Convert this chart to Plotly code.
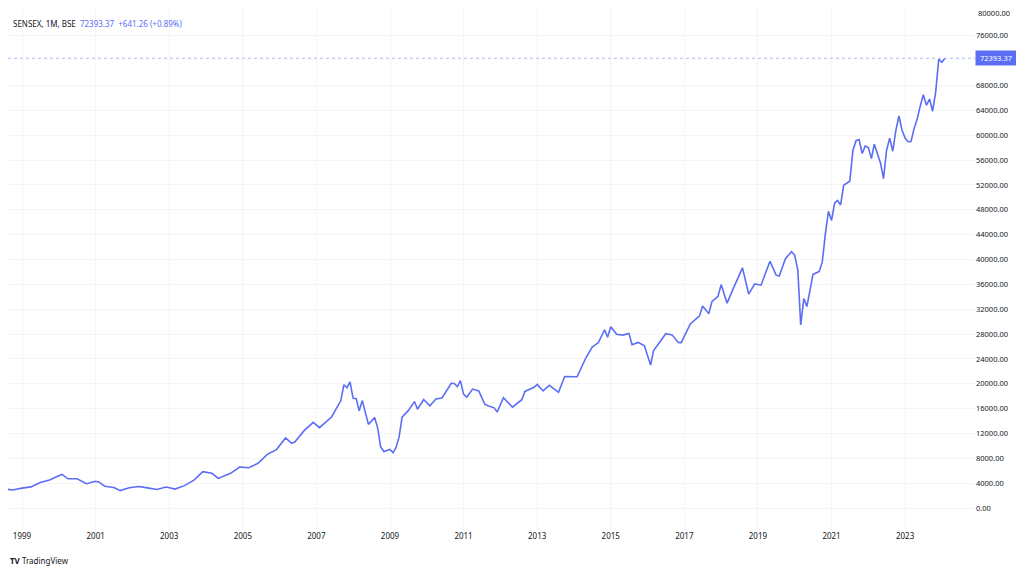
import plotly.graph_objects as go

dates = ["1998-07","1998-10","1999-01","1999-04","1999-07","1999-10","2000-01","2000-02","2000-04","2000-07","2000-10","2001-01","2001-02","2001-04","2001-07","2001-09","2001-12","2002-03","2002-06","2002-09","2002-12","2003-03","2003-06","2003-09","2003-12","2004-03","2004-05","2004-09","2004-12","2005-03","2005-06","2005-09","2005-12","2006-03","2006-05","2006-06","2006-09","2006-12","2007-02","2007-06","2007-09","2007-10","2007-11","2007-12","2008-01","2008-02","2008-03","2008-04","2008-06","2008-08","2008-09","2008-10","2008-11","2009-01","2009-02","2009-03","2009-04","2009-05","2009-07","2009-09","2009-10","2009-12","2010-02","2010-04","2010-06","2010-09","2010-10","2010-11","2010-12","2011-01","2011-02","2011-04","2011-06","2011-08","2011-09","2011-11","2011-12","2012-02","2012-05","2012-08","2012-09","2012-12","2013-01","2013-03","2013-05","2013-08","2013-10","2013-12","2014-02","2014-05","2014-07","2014-09","2014-11","2014-12","2015-01","2015-03","2015-05","2015-07","2015-08","2015-10","2015-12","2016-02","2016-03","2016-07","2016-09","2016-11","2016-12","2017-03","2017-06","2017-07","2017-09","2017-10","2017-12","2018-01","2018-03","2018-05","2018-08","2018-10","2018-12","2019-02","2019-05","2019-07","2019-08","2019-10","2019-12","2020-01","2020-02","2020-03","2020-04","2020-05","2020-07","2020-09","2020-10","2020-11","2020-12","2021-01","2021-02","2021-03","2021-04","2021-05","2021-07","2021-08","2021-09","2021-10","2021-11","2021-12","2022-01","2022-02","2022-03","2022-04","2022-05","2022-06","2022-07","2022-08","2022-09","2022-10","2022-11","2022-12","2023-01","2023-02","2023-03","2023-04","2023-05","2023-06","2023-07","2023-08","2023-09","2023-10","2023-11","2023-12","2024-01","2024-02"]
values = [3100,2900,3200,3400,4100,4500,5200,5400,4700,4700,3900,4300,4200,3500,3300,2800,3260,3470,3240,2990,3380,3050,3600,4450,5840,5590,4760,5580,6600,6490,7190,8630,9400,11280,10400,10610,12450,13790,12930,14650,17290,19840,19360,20290,17650,17580,15640,17290,13460,14560,12860,9790,9090,9420,8890,9700,11400,14630,15670,17130,15900,17460,16430,17560,17700,20070,20030,19520,20510,18330,17820,19140,18850,16680,16450,16120,15450,17750,16220,17430,18760,19430,19890,18840,19760,18620,21160,21170,21120,24220,25890,26630,28690,27500,29180,27960,27830,28110,26280,26660,26120,23000,25340,28050,27870,26650,26630,29620,30920,32510,31280,33210,34060,35960,32970,35320,38650,34440,36070,35870,39710,37480,37330,40130,41250,40720,38300,29470,33720,32420,37600,38070,39610,44150,47750,46290,49100,49510,48780,51940,52590,57550,59130,59310,57060,58250,58010,56250,58570,57060,55570,53020,57570,59540,57430,60750,63100,60840,59550,58960,58990,61110,62620,64720,66530,64830,65830,63870,66990,72240,71750,72393.37]
last_price = 72393.37
y_ticks = [v for v in range(0, 76001, 4000) if v != 72000]
top_tick = 80000
x_ticks = [str(y) for y in range(1999, 2024, 2)]

color = "#5b6ef5"
fig = go.Figure()
fig.add_trace(go.Scatter(x=dates, y=values, mode="lines", line=dict(color=color, width=1.6), showlegend=False))
fig.add_hline(y=last_price, line=dict(color="#9aa6f8", width=0.8, dash="dot"))
fig.update_layout(
    width=1016, height=562, margin=dict(l=0, r=49, t=0, b=40),
    paper_bgcolor="white", plot_bgcolor="white",
    font=dict(family="Noto Sans", size=8, color="#131722"),
    xaxis=dict(range=["1998-08-15", "2024-11-25"], tickvals=[f"{y}-01-01" for y in x_ticks], ticktext=x_ticks,
               showgrid=True, gridcolor="#f4f5f7", zeroline=False, showline=False, ticks="", tickfont=dict(size=8)),
    yaxis=dict(side="right", range=[-3541, 80483], tickvals=y_ticks, ticktext=[f"{v:.2f}" for v in y_ticks],
               showgrid=True, gridcolor="#f4f5f7", zeroline=False, ticks="", tickfont=dict(size=7.5)),
    annotations=[
        dict(xref="paper", yref="paper", x=0.003, y=0.985, xanchor="left", yanchor="top", showarrow=False,
             text="SENSEX, 1M, BSE  <span style='color:#5b6ef5'>72393.37  +641.26 (+0.89%)</span>", font=dict(size=8)),
        dict(xref="paper", yref="y", x=1.0, y=top_tick, xanchor="left", showarrow=False, xshift=1, yshift=-2,
             text=f"{top_tick:.2f}", font=dict(size=7.5)),
        dict(xref="paper", yref="y", x=1.0, y=last_price, xanchor="left", showarrow=False, text=" 72393.37 ",
             bgcolor=color, font=dict(color="white", size=7.5), borderpad=2),
        dict(xref="paper", yref="paper", x=0.0, y=-0.045, xanchor="left", yanchor="top", showarrow=False,
             text="<b>TV</b> TradingView", font=dict(size=8)),
    ],
)
fig.write_html("out.html")
